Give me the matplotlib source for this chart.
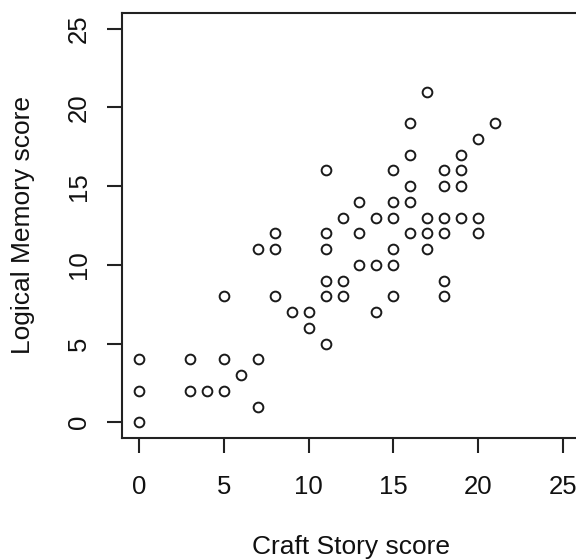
import matplotlib
matplotlib.use("Agg")
import matplotlib.pyplot as plt

plt.rcParams['font.family'] = ['Liberation Sans', 'DejaVu Sans']

# Craft Story score vs Logical Memory score
craft = [0, 0, 0, 3, 3, 4, 5, 5, 5, 6, 7, 7, 7, 8, 8, 8, 9,
         11, 12, 15, 18, 10, 14, 10, 11, 11, 12, 18, 13, 14, 15,
         11, 15, 17, 11, 13, 16, 17, 18, 20,
         12, 14, 15, 17, 18, 19, 20, 13, 15, 16,
         17, 16, 21, 20, 16, 19, 11, 15, 18, 19, 16, 18, 19]
logical = [4, 2, 0, 4, 2, 2, 2, 4, 8, 3, 4, 1, 11, 11, 12, 8, 7,
           8, 8, 8, 8, 7, 7, 6, 5, 9, 9, 9, 10, 10, 10,
           11, 11, 11, 12, 12, 12, 12, 12, 12,
           13, 13, 13, 13, 13, 13, 13, 14, 14, 14,
           21, 19, 19, 18, 17, 17, 16, 16, 16, 16, 15, 15, 15]
ticks = [0, 5, 10, 15, 20, 25]

W, H = 576, 560
fig = plt.figure(figsize=(W / 100, H / 100), dpi=100)
ax = fig.add_axes([122 / W, (H - 438) / H, (580 - 122) / W, (438 - 13) / H])

ax.plot(craft, logical, 'o', markerfacecolor='none', markeredgecolor='#1a1a1a',
        markersize=7, markeredgewidth=1.4, linestyle='none')

ax.set_xlim(-1, 26)
ax.set_ylim(-1, 26)
ax.set_xticks(ticks)
ax.set_yticks(ticks)

for s in ax.spines.values():
    s.set_linewidth(1.5)
    s.set_color('#222222')
ax.spines['right'].set_visible(False)

ax.tick_params(axis='both', length=10.5, width=1.5, color='#222222',
               labelsize=18.5, labelcolor='#111111')
ax.tick_params(axis='x', pad=16)
ax.tick_params(axis='y', pad=12)
for lab in ax.get_yticklabels():
    lab.set_rotation(90)
    lab.set_va('center')
    lab.set_ha('right')

ax.set_xlabel('Craft Story score', fontsize=19, color='#111111', labelpad=26)
ax.set_ylabel('Logical Memory score', fontsize=19, color='#111111', labelpad=23)

fig.savefig('out.png', dpi=100)
